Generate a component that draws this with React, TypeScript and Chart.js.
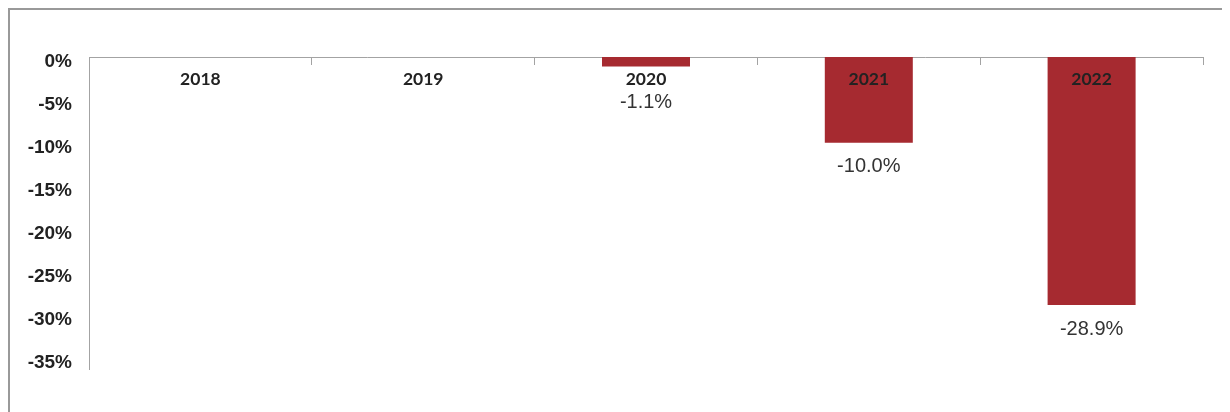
import React, { useEffect, useRef } from 'react';
import { Chart, registerables } from 'chart.js';

Chart.register(...registerables);

const categories: string[] = ['2018', '2019', '2020', '2021', '2022'];
const values: number[] = [0, 0, -1.1, -10.0, -28.9];
const yTickValues: number[] = [0, -5, -10, -15, -20, -25, -30, -35];
const yMin = -36.35;
const yMax = 0;

const barColor = '#A62A30';
const axisColor = '#a3a3a3';
const textColor = '#222222';

export default function App() {
  const ref = useRef<HTMLCanvasElement | null>(null);

  useEffect(() => {
    document.documentElement.style.overflow = 'hidden';
    const labelPlugin = {
      id: 'barValueLabels',
      afterDatasetsDraw(chart: any) {
        const ctx = chart.ctx;
        const meta = chart.getDatasetMeta(0);
        const axisY = chart.scales.y.getPixelForValue(0);
        ctx.save();
        ctx.font = '20px "Liberation Sans", Arial, sans-serif';
        ctx.fillStyle = '#333333';
        ctx.textAlign = 'center';
        ctx.textBaseline = 'middle';
        meta.data.forEach((el: any, i: number) => {
          const v = values[i];
          if (!v) return;
          const y = Math.max(el.y + 24, axisY + 45);
          ctx.fillText(v.toFixed(1) + '%', el.x, y);
        });
        ctx.restore();
      },
    };

    const chart = new Chart(ref.current as HTMLCanvasElement, {
      type: 'bar',
      data: {
        labels: categories,
        datasets: [
          {
            data: values,
            backgroundColor: barColor,
            borderWidth: 0,
            barPercentage: 0.395,
            categoryPercentage: 1,
          },
        ],
      },
      options: {
        responsive: false,
        animation: false,
        layout: { padding: { left: 0, top: 49, right: 27, bottom: 43 } },
        plugins: {
          legend: { display: false },
          tooltip: { enabled: false },
          title: { display: false },
        },
        scales: {
          x: {
            type: 'category',
            position: { y: 0 } as any,
            offset: true,
            grid: {
              display: true,
              drawOnChartArea: false,
              drawTicks: true,
              tickLength: 7,
              color: axisColor,
              offset: true,
              lineWidth: 1,
            },
            border: { display: true, color: axisColor, width: 1 },
            ticks: {
              z: 1,
              font: { family: 'Lato', weight: 'bold', size: 17.5 },
              color: textColor,
              padding: 5,
              maxRotation: 0,
              autoSkip: false,
            },
          },
          y: {
            min: yMin,
            max: yMax,
            afterBuildTicks: (s: any) => {
              s.ticks = yTickValues.map((v) => ({ value: v }));
            },
            afterFit: (s: any) => {
              s.width = 81;
            },
            grid: { display: false, drawTicks: false },
            border: { display: true, color: axisColor, width: 1 },
            ticks: {
              padding: 17,
              labelOffset: 5,
              font: { family: '"Liberation Sans", Arial, sans-serif', weight: 'bold', size: 19 },
              color: textColor,
              callback: (v: any) => v + '%',
            },
          },
        },
      },
      plugins: [labelPlugin],
    });
    return () => chart.destroy();
  }, []);

  return (
    <div style={{ position: 'relative', width: 1222, height: 404, overflow: 'hidden' }}>
      <div
        style={{
          position: 'absolute',
          left: 0,
          top: 0,
          width: 1260,
          height: 440,
          border: '2px solid #999999',
          boxSizing: 'border-box',
        }}
      />
      <canvas
        ref={ref}
        width={1222}
        height={404}
        style={{ position: 'absolute', left: 0, top: 0, display: 'block' }}
      />
    </div>
  );
}
